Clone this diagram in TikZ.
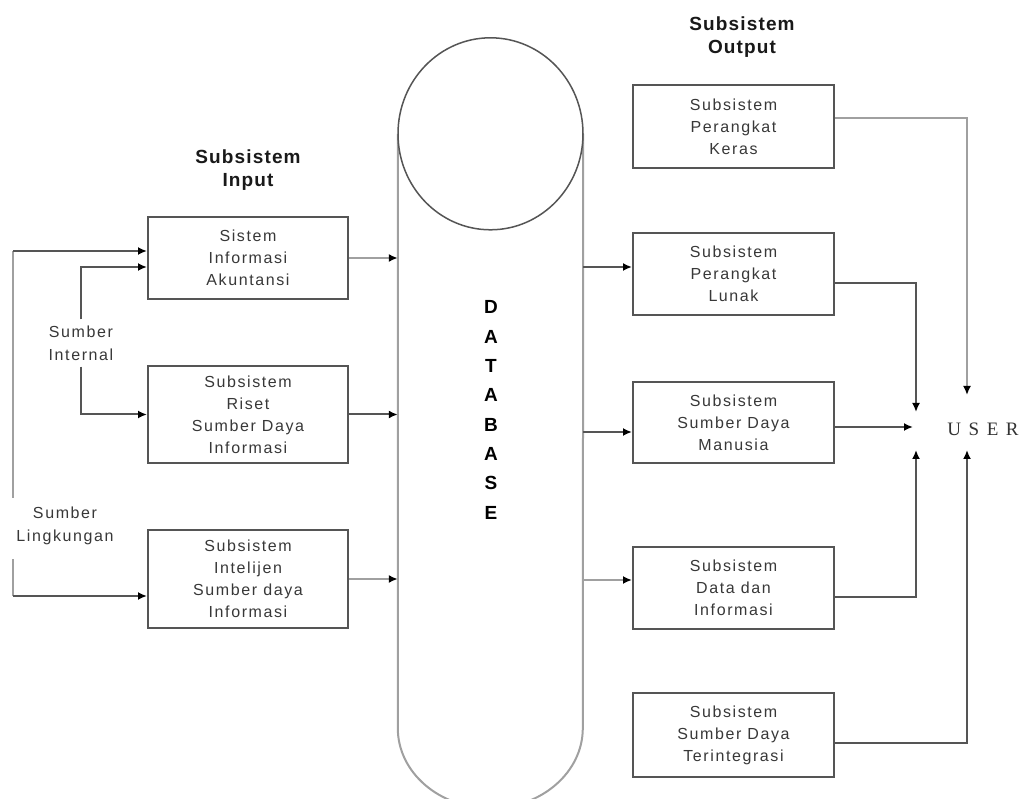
\documentclass[tikz,border=0pt]{standalone}
\usepackage{fontspec}
\setmainfont{Liberation Sans}
\newfontfamily\boxfont[LetterSpace=10]{Liberation Sans}
\newfontfamily\headfont[LetterSpace=6]{Liberation Sans}
\newfontfamily\userfont[LetterSpace=15]{Liberation Serif}
\usetikzlibrary{arrows.meta}
\definecolor{line-dark}{HTML}{555555}
\definecolor{line-light}{HTML}{A0A0A0}
\definecolor{text-gray}{HTML}{383838}
\colorlet{boxline}{line-dark}
\tikzset{
  subbox/.style={draw=boxline, line width=2pt, minimum width=200pt, inner sep=0pt,
    align=center, text=text-gray, font=\boxfont\fontsize{16}{22}\selectfont},
  heading/.style={align=center, text=black!90, font=\headfont\bfseries\fontsize{19}{23}\selectfont},
  srclabel/.style={align=center, text=text-gray, inner xsep=0pt, inner ysep=6pt,
    font=\boxfont\fontsize{16}{23}\selectfont},
  dbletters/.style={align=center, text=black, font=\headfont\bfseries\fontsize{19}{29.3}\selectfont},
  userlabel/.style={text=black!80, font=\userfont\fontsize{19}{19}\selectfont},
  con/.style={draw=line-dark, line width=2pt},
  conlight/.style={draw=line-light, line width=2pt},
  tip/.style={-{Latex[length=9pt,width=8pt,black]}},
}

\begin{document}
\begin{tikzpicture}[x=1pt, y=-1pt]
\useasboundingbox[fill=white] (0,0) rectangle (1021,799);
% headings
\node[heading] (titleIn) at (248,170) {Subsistem\\Input};
\node[heading] (titleOut) at (742,37) {Subsistem\\Output};
% database cylinder
\node[minimum width=185pt, minimum height=594pt, inner sep=0pt] (db) at (490.5,431) {};
\draw[conlight] (db.north west) -- (db.south west)
  arc[start angle=180, end angle=0, x radius=92.5, y radius=80] -- (db.north east);
\draw[con, line width=1.5pt] (db.north) ellipse [x radius=92.5, y radius=96];
\node[dbletters] (dbtext) at (491,410) {D\\A\\T\\A\\B\\A\\S\\E};
% input subsystems
\node[subbox, minimum height=82pt] (ak) at (248,258) {Sistem\\Informasi\\Akuntansi};
\node[subbox, minimum height=97pt] (riset) at (248,414.5) {Subsistem\\Riset\\Sumber Daya\\Informasi};
\node[subbox, minimum height=98pt] (intel) at (248,579) {Subsistem\\Intelijen\\Sumber daya\\Informasi};
% output subsystems
\node[subbox, minimum width=201pt, minimum height=83pt] (keras) at (733.5,126.5) {Subsistem\\Perangkat\\Keras};
\node[subbox, minimum width=201pt, minimum height=82pt] (lunak) at (733.5,274) {Subsistem\\Perangkat\\Lunak};
\node[subbox, minimum width=201pt, minimum height=81pt] (sdm) at (733.5,422.5) {Subsistem\\Sumber Daya\\Manusia};
\node[subbox, minimum width=201pt, minimum height=82pt] (data) at (733.5,588) {Subsistem\\Data dan\\Informasi};
\node[subbox, minimum width=201pt, minimum height=84pt] (terint) at (733.5,735) {Subsistem\\Sumber Daya\\Terintegrasi};
% sources
\node[srclabel] (internal) at (81,343) {Sumber\\Internal};
\node[srclabel, inner ysep=9pt] (lingkungan) at (65,526) {Sumber\\Lingkungan};
\coordinate (lingTop) at (13,251);
\coordinate (lingBot) at (13,596);
\coordinate (intTop) at (81,267);
\draw[conlight] (lingkungan.north -| lingTop) -- (lingTop);
\draw[con,tip] (lingTop) -- (lingTop -| ak.west);
\draw[conlight] ([yshift=-5pt]lingkungan.south -| lingBot) -- (lingBot);
\draw[con,tip] (lingBot) -- (lingBot -| intel.west);
\draw[con,tip] (internal.north) -- (intTop) -- (intTop -| ak.west);
\draw[con,tip] (internal.south) |- (riset.west);
% input to database
\draw[conlight,tip] (ak.east) -- (ak.east -| db.west);
\draw[con,tip] (riset.east) -- (riset.east -| db.west);
\draw[conlight,tip] (intel.east) -- (intel.east -| db.west);
% database to output
\coordinate (inLunak) at ([yshift=7pt]lunak.west);
\coordinate (inSdm) at ([yshift=-9.5pt]sdm.west);
\coordinate (inData) at ([yshift=8pt]data.west);
\draw[con,tip] (inLunak -| db.east) -- (inLunak);
\draw[con,tip] (inSdm -| db.east) -- (inSdm);
\draw[conlight,tip] (inData -| db.east) -- (inData);
% output to user
\node[userlabel] (user) at (983,429) {U S E R};
\coordinate (tipA) at (967,395);
\coordinate (tipB) at (916,412);
\coordinate (tipC) at (913,427);
\coordinate (tipD) at (916,450);
\coordinate (tipE) at (967,450);
\draw[conlight,tip] ([yshift=8.5pt]keras.east) -| (tipA);
\draw[con,tip] ([yshift=-9pt]lunak.east) -| (tipB);
\draw[con,tip] ([yshift=-4.5pt]sdm.east) -- (tipC);
\draw[con,tip] ([yshift=-9pt]data.east) -| (tipD);
\draw[con,tip] ([yshift=-8pt]terint.east) -| (tipE);
\end{tikzpicture}
\end{document}
